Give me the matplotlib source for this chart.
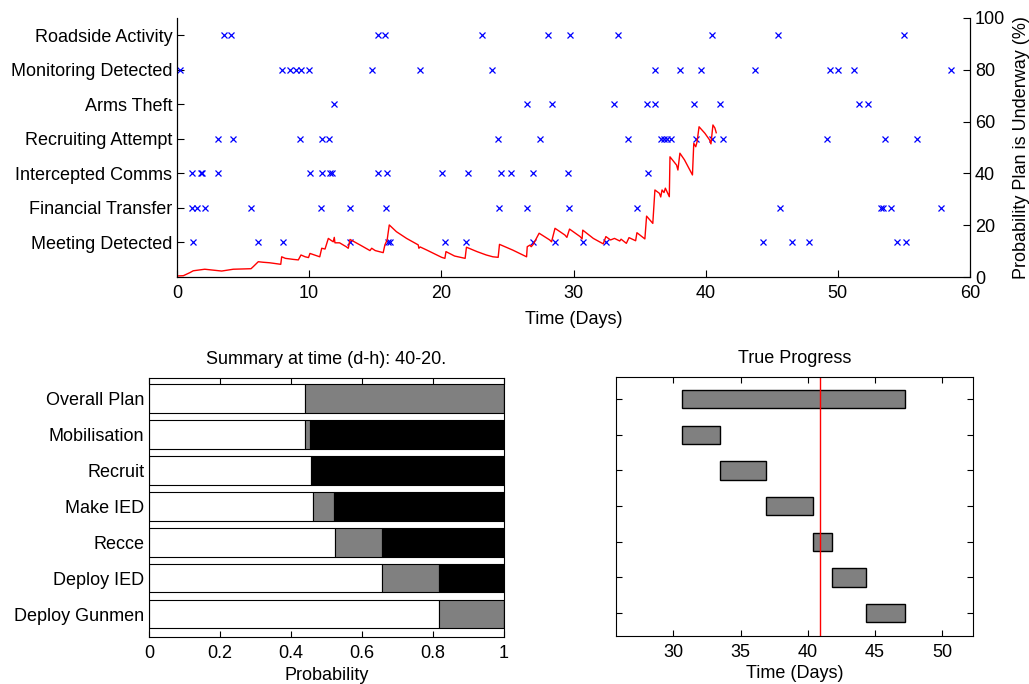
import matplotlib
matplotlib.use('Agg')
import matplotlib.pyplot as plt

plt.rcParams['font.family'] = ['Liberation Sans', 'DejaVu Sans']
plt.rcParams['font.size'] = 13

# Event observations (days) per indicator
event_names = ['Meeting Detected', 'Financial Transfer', 'Intercepted Comms',
               'Recruiting Attempt', 'Arms Theft', 'Monitoring Detected',
               'Roadside Activity']
meeting = [1.19, 6.15, 8.04, 13.09, 15.98, 16.11, 20.27, 21.86, 26.95, 28.6,
           30.69, 32.45, 44.35, 46.54, 47.8, 54.44, 55.14]
financial = [1.11, 1.54, 2.12, 5.6, 10.87, 13.09, 15.81, 24.38, 26.5, 29.65,
             34.8, 45.6, 53.3, 53.45, 54.0, 57.8]
intercepted = [1.11, 1.79, 1.91, 3.12, 10.06, 10.95, 11.57, 11.75, 15.18, 15.86,
               20.02, 21.99, 24.5, 25.3, 26.95, 29.55, 35.65]
recruiting = [3.12, 4.26, 9.3, 10.95, 11.52, 24.3, 27.46, 34.14, 36.6, 36.84,
              37.09, 37.35, 39.3, 40.45, 41.28, 49.2, 53.55, 55.97]
arms = [11.9, 26.5, 28.4, 33.08, 35.53, 36.16, 39.1, 41.07, 51.6, 52.3]
monitoring = [0.23, 7.92, 8.55, 9.0, 9.38, 10.0, 14.73, 18.38, 23.85, 36.16,
              38.05, 39.64, 43.72, 49.4, 50.02, 51.23, 58.6]
roadside = [3.56, 4.08, 15.2, 15.7, 23.1, 28.1, 29.7, 33.4, 40.5, 45.5, 55.0]
events = [meeting, financial, intercepted, recruiting, arms, monitoring, roadside]

# Probability plan is underway (%)
prob_days = [0.0, 0.48, 0.98, 1.23, 2.1, 3.38, 4.26, 5.6, 5.77, 6.15, 6.5, 7.0,
             7.85, 7.92, 8.2, 8.8, 9.18, 9.38, 9.7, 9.95, 10.06, 10.4, 10.8,
             10.95, 11.2, 11.45, 11.7, 11.82, 11.9, 11.95, 12.3, 12.8, 12.96,
             13.09, 13.84, 14.6, 14.73, 15.0, 15.6, 15.73, 15.9, 16.06, 16.6,
             17.37, 18.25, 18.3, 18.4, 18.9, 20.02, 20.27, 20.35, 21.0, 21.8,
             21.9, 22.7, 23.4, 23.9, 24.3, 24.4, 25.4, 26.45, 26.5, 26.7, 26.8,
             26.95, 27.4, 28.2, 28.34, 28.47, 28.6, 29.35, 29.5, 29.7, 30.5,
             30.65, 30.7, 31.5, 32.25, 32.45, 32.8, 33.1, 33.5, 33.6, 34.0,
             34.2, 34.7, 34.8, 35.4, 35.53, 36.0, 36.16, 36.5, 36.6, 36.7,
             36.85, 36.95, 37.25, 37.3, 37.8, 37.9, 38.05, 38.4, 39.0, 39.1,
             39.25, 39.35, 39.5, 39.94, 40.3, 40.4, 40.55, 40.7, 40.8]
prob_vals = [0.4, 0.5, 1.7, 2.4, 3.0, 2.3, 3.0, 3.2, 4.0, 5.9, 5.7, 5.5,
             4.9, 7.8, 7.2, 6.8, 6.6, 8.5, 7.8, 7.5, 9.1, 8.5, 7.8,
             11.1, 10.8, 14.9, 14.0, 13.6, 15.3, 13.2, 13.2, 11.7, 11.1,
             14.5, 12.4, 10.2, 11.1, 10.2, 9.4, 12.4, 14.3, 20.1, 17.5,
             14.9, 12.4, 11.1, 11.6, 10.4, 7.6, 7.2, 9.8, 8.1, 7.2,
             11.5, 9.8, 8.5, 7.8, 7.6, 12.6, 10.4, 7.8, 11.7, 12.3, 11.7,
             12.6, 16.9, 14.3, 13.6, 16.2, 18.8, 16.2, 15.3, 18.5, 15.6,
             14.7, 18.1, 14.9, 12.8, 15.6, 14.3, 14.9, 13.9, 14.6, 13.0,
             15.2, 14.0, 17.1, 14.7, 23.5, 20.7, 33.6, 32.3, 30.9, 33.6,
             32.6, 34.3, 31.0, 46.4, 43.2, 41.3, 47.8, 45.2, 39.4, 51.6,
             50.3, 52.2, 58.0, 55.5, 52.9, 51.4, 58.7, 57.5, 55.7]

# Summary at current time
stages = ['Overall Plan', 'Mobilisation', 'Recruit', 'Make IED', 'Recce',
          'Deploy IED', 'Deploy Gunmen']
p_white = [0.44, 0.44, 0.456, 0.461, 0.523, 0.656, 0.817]
p_grey = [0.56, 0.014, 0.003, 0.061, 0.132, 0.16, 0.183]
p_black = [0.0, 0.546, 0.541, 0.478, 0.345, 0.184, 0.0]

# True progress (days)
stage_start = [30.67, 30.67, 33.5, 36.88, 40.43, 41.78, 44.33]
stage_end = [47.22, 33.5, 36.88, 40.43, 41.78, 44.33, 47.22]
now_day = 40.95

W, H = 1029, 684
fig = plt.figure(figsize=(W / 100, H / 100), dpi=100)

def box(l, t, r, b):
    return [l / W, (H - b) / H, (r - l) / W, (b - t) / H]

# ---- top: events and probability
ax = fig.add_axes(box(177, 18, 970, 277))
for i, ev in enumerate(events):
    ax.plot(ev, [i + 1] * len(ev), 'x', color='#0000ff', markersize=5, mew=0.9,
            linestyle='none')
ax.set_xlim(0, 60)
ax.set_ylim(0, 7.5)
ax.set_yticks(range(1, 8))
ax.set_yticklabels(event_names)
ax.set_xticks(range(0, 61, 10))
ax.set_xlabel('Time (Days)', labelpad=6)
ax.spines['top'].set_visible(False)
ax.tick_params(direction='in', length=5, right=False, top=False)
ax.tick_params(axis='x', pad=6)

ax2 = ax.twinx()
ax2.plot(prob_days, prob_vals, color='#ff0000', lw=1)
ax2.set_ylim(0, 100)
ax2.set_yticks(range(0, 101, 20))
ax2.set_ylabel('Probability Plan is Underway (%)', labelpad=6)
ax2.spines['top'].set_visible(False)
ax2.tick_params(direction='in', length=5)

# ---- bottom left: summary bars
ax3 = fig.add_axes(box(149, 378, 504, 637))
ypos = [7 - i for i in range(len(stages))]
left_grey = [w for w in p_white]
left_black = [w + g for w, g in zip(p_white, p_grey)]
ax3.barh(ypos, p_white, height=0.8, color='white', edgecolor='black', lw=0.8)
ax3.barh(ypos, p_grey, left=left_grey, height=0.8, color='#808080',
         edgecolor='black', lw=0.8)
ax3.barh(ypos, p_black, left=left_black, height=0.8, color='black',
         edgecolor='black', lw=0.8)
ax3.set_xlim(0, 1)
ax3.set_ylim(0.36, 7.57)
ax3.set_yticks(ypos)
ax3.set_yticklabels(stages)
ax3.set_xticks([0, 0.2, 0.4, 0.6, 0.8, 1])
ax3.set_xticklabels(['0', '0.2', '0.4', '0.6', '0.8', '1'])
ax3.set_xlabel('Probability', labelpad=3)
ax3.set_title('Summary at time (d-h): 40-20.', fontsize=13, pad=10)
ax3.tick_params(direction='in', length=4, top=True, right=True)
ax3.tick_params(axis='x', pad=6)
ax3.tick_params(axis='y', length=0)

# ---- bottom right: true progress
ax4 = fig.add_axes(box(616, 377, 973, 636))
ax4.barh(ypos, [e - s for s, e in zip(stage_start, stage_end)], left=stage_start,
         height=0.51, color='#808080', edgecolor='black', lw=1)
ax4.axvline(now_day, color='#ff0000', lw=1)
ax4.set_xlim(25.73, 52.31)
ax4.set_ylim(0.36, 7.62)
ax4.set_yticks(ypos)
ax4.set_yticklabels([])
ax4.set_xticks(range(30, 51, 5))
ax4.set_xlabel('Time (Days)', labelpad=3)
ax4.set_title('True Progress', fontsize=13, pad=10)
ax4.tick_params(direction='in', length=4, top=True, right=True)
ax4.tick_params(axis='x', pad=6)

fig.savefig('out.png', dpi=100)
